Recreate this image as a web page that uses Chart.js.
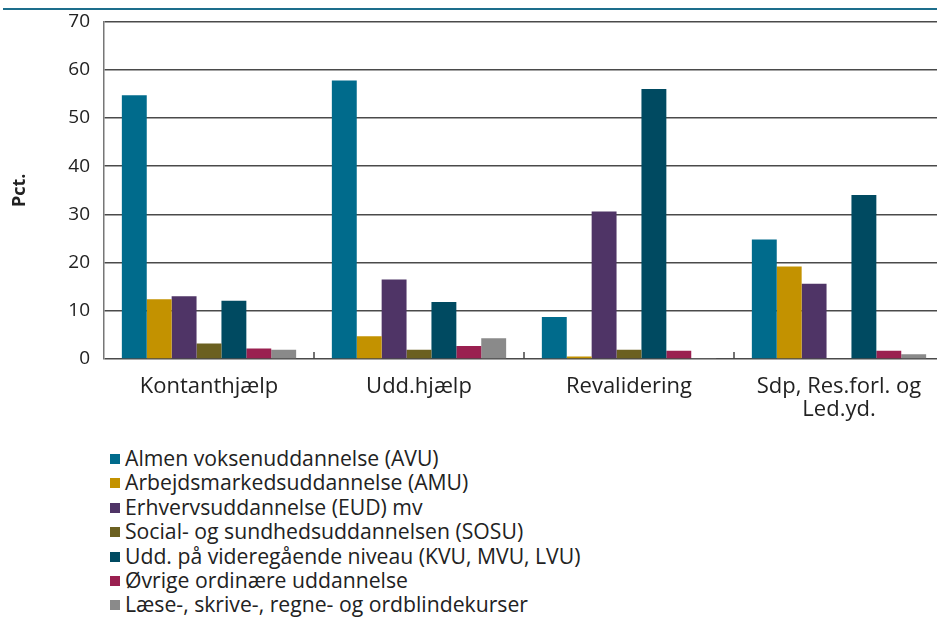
<!DOCTYPE html>
<html>
<head>
<meta charset="utf-8">
<script src="https://cdn.jsdelivr.net/npm/chart.js@4"></script>
<style>
    body { margin: 0; background: #fff; overflow: hidden; width: 937px; height: 631px; position: relative; }
    #topLine { position: absolute; left: 3px; top: 8px; width: 934px; height: 2px; background: #1d6e8c; }
    #wrap { position: absolute; left: 0; top: 0; width: 960px; height: 435px; }
    #legend { position: absolute; left: 110px; top: 446px; font-family: 'Open Sans', sans-serif; font-size: 21.2px; color: #222; }
    #legend div { height: 24.4px; line-height: 24.4px; white-space: nowrap; }
    #legend span { display: inline-block; width: 10px; height: 10px; margin-right: 5px; vertical-align: 2px; }
</style>
</head>
<body>
<div id="topLine"></div>
<div id="wrap"><canvas id="myChart"></canvas></div>
<div id="legend"></div>
<script>
const categories = ['Kontanthjælp', 'Udd.hjælp', 'Revalidering', ['Sdp, Res.forl. og', 'Led.yd.']];
const seriesNames = [
    'Almen voksenuddannelse (AVU)',
    'Arbejdsmarkedsuddannelse (AMU)',
    'Erhvervsuddannelse (EUD) mv',
    'Social- og sundhedsuddannelsen (SOSU)',
    'Udd. på videregående niveau (KVU, MVU, LVU)',
    'Øvrige ordinære uddannelse',
    'Læse-, skrive-, regne- og ordblindekurser'
];
const avu = [54.7, 57.8, 8.7, 24.8];
const amu = [12.4, 4.7, 0.5, 19.2];
const eud = [13.0, 16.5, 30.6, 15.6];
const sosu = [3.2, 1.9, 1.9, 0];
const kvu = [12.1, 11.8, 56.0, 34.0];
const oevrige = [2.2, 2.7, 1.7, 1.7];
const laese = [1.9, 4.3, 0.1, 1.0];
const colors = ['#006b8c', '#c39200', '#4f3466', '#6b6020', '#004a61', '#9a2050', '#8a8a8a'];

const allValues = [avu, amu, eud, sosu, kvu, oevrige, laese];

// small upward tick marks between the groups
const groupTicks = {
    id: 'groupTicks',
    afterDatasetsDraw(chart) {
        const x = chart.scales.x;
        const bottom = chart.chartArea.bottom;
        const c = chart.ctx;
        c.save();
        c.strokeStyle = '#444';
        c.lineWidth = 1.5;
        for (let i = 1; i < categories.length; i++) {
            const px = (x.getPixelForTick(i - 1) + x.getPixelForTick(i)) / 2;
            c.beginPath();
            c.moveTo(px, bottom - 7);
            c.lineTo(px, bottom);
            c.stroke();
        }
        c.restore();
    }
};

let ctx = document.getElementById('myChart');
const myChart = new Chart(ctx, {
    type: 'bar',
    data: {
        labels: categories,
        datasets: seriesNames.map((name, i) => ({
            label: name,
            data: allValues[i],
            backgroundColor: colors[i],
            borderWidth: 0,
            categoryPercentage: 0.83,
            barPercentage: 1.0
        }))
    },
    options: {
        responsive: true,
        maintainAspectRatio: false,
        animation: false,
        layout: {
            padding: { top: 0, right: 16, left: 0, bottom: 0 }
        },
        plugins: {
            legend: { display: false },
            tooltip: { enabled: false }
        },
        scales: {
            y: {
                min: 0,
                max: 70,
                ticks: {
                    stepSize: 10,
                    padding: 14,
                    color: '#222',
                    font: { family: 'Open Sans', size: 19, lineHeight: 0.8 }
                },
                grid: {
                    color: '#4a4a4a',
                    lineWidth: 1.5,
                    drawTicks: false
                },
                border: { display: true, color: '#777', width: 1.5 },
                title: {
                    display: true,
                    text: 'Pct.',
                    color: '#222',
                    font: { family: 'Open Sans', size: 18, weight: 'bold' },
                    padding: { top: 9, bottom: 0 }
                },
                afterFit(scale) { scale.width = 104; }
            },
            x: {
                ticks: {
                    padding: 8,
                    color: '#222',
                    maxRotation: 0,
                    font: { family: 'Open Sans', size: 22, lineHeight: 1.05 }
                },
                grid: { display: false },
                border: { display: false },
                afterFit(scale) { scale.height = 76; }
            }
        }
    },
    plugins: [groupTicks]
});

// legend as a plain vertical list, built from the same arrays
const legendBox = document.getElementById('legend');
seriesNames.forEach((name, i) => {
    const row = document.createElement('div');
    const sw = document.createElement('span');
    sw.style.background = colors[i];
    row.appendChild(sw);
    row.appendChild(document.createTextNode(name));
    legendBox.appendChild(row);
});
</script>
</body>
</html>
